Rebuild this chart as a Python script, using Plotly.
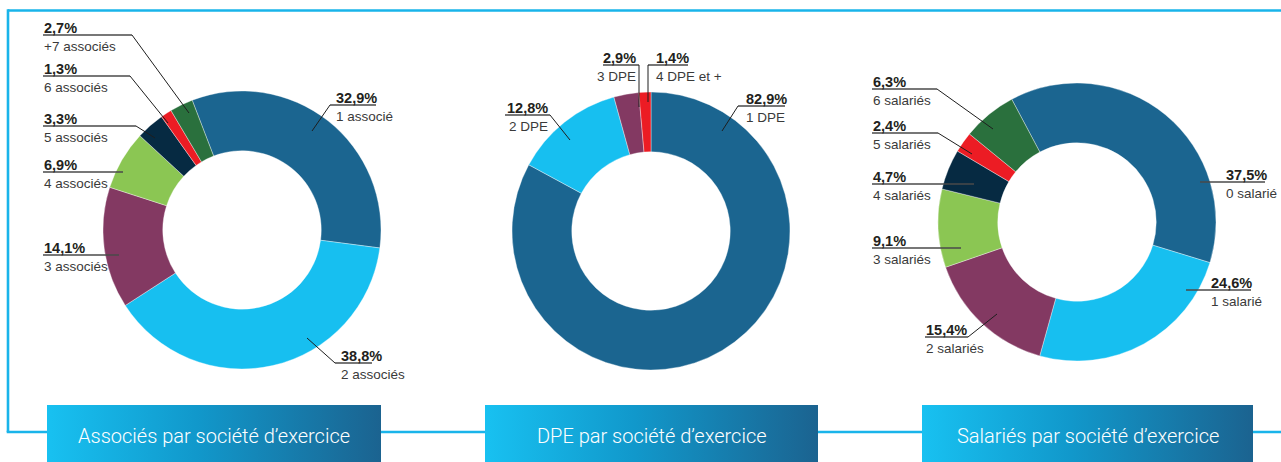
import plotly.graph_objects as go

# ---------------- data ----------------
associes_labels = ["1 associé", "2 associés", "3 associés", "4 associés", "5 associés", "6 associés", "+7 associés"]
associes_values = [32.9, 38.8, 14.1, 6.9, 3.3, 1.3, 2.7]

dpe_labels = ["1 DPE", "2 DPE", "3 DPE", "4 DPE et +"]
dpe_values = [82.9, 12.8, 2.9, 1.4]

salaries_labels = ["0 salarié", "1 salarié", "2 salariés", "3 salariés", "4 salariés", "5 salariés", "6 salariés"]
salaries_values = [37.5, 24.6, 15.4, 9.1, 4.7, 2.4, 6.3]

titles = ["Associés par société d’exercice", "DPE par société d’exercice", "Salariés par société d’exercice"]

# ---------------- styles ----------------
W, H = 1281, 462
DARK_BLUE = "#1b6590"
LIGHT_BLUE = "#17bff0"
PURPLE = "#833962"
LIGHT_GREEN = "#8bc653"
NAVY = "#062a42"
RED = "#ec1c24"
DARK_GREEN = "#2a703d"
FRAME = "#19b4ea"

colors7 = [DARK_BLUE, LIGHT_BLUE, PURPLE, LIGHT_GREEN, NAVY, RED, DARK_GREEN]
colors4 = [DARK_BLUE, LIGHT_BLUE, PURPLE, RED]

LABEL_FONT = "Liberation Sans, Arial, sans-serif"
TITLE_FONT = "Roboto, Liberation Sans, sans-serif"

# pie geometry (pixel centre, radius) and rotation
pies = [
    dict(labels=associes_labels, values=associes_values, colors=colors7, cx=242, cy=230, r=139, rot=-21),
    dict(labels=dpe_labels, values=dpe_values, colors=colors4, cx=651, cy=231, r=139, rot=0),
    dict(labels=salaries_labels, values=salaries_values, colors=colors7, cx=1077, cy=222, r=139, rot=-28),
]

# label layout per slice: (anchor, text_x, underline_y, ul_x0, ul_x1, leader_start_x, leader_end or None)
label_layout = [
    [
        ("left", 335, 105, 330, 376, 330, (312, 131)),
        ("left", 340, 363, 335, 372, 335, (307, 338)),
        ("left", 43, 255, 43, 119, None, None),
        ("left", 43, 172, 43, 123, None, None),
        ("left", 43, 126, 43, 136, 136, (155, 138)),
        ("left", 43, 76, 43, 130, 130, (168, 123)),
        ("left", 43, 35, 43, 132, 132, (189, 113)),
    ],
    [
        ("left", 745, 106, 738, 785, 738, (722, 131)),
        ("right", 549, 115, 505, 550, 550, (570, 140)),
        ("right", 637, 65, 603, 639, 639, (639, 107)),
        ("left", 655, 65, 648, 688, 648, (648, 102)),
    ],
    [
        ("left", 1225, 182, 1200, 1265, None, None),
        ("left", 1210, 290, 1186, 1251, None, None),
        ("left", 925, 337, 925, 968, 968, (997, 314)),
        ("left", 872, 248, 872, 961, None, None),
        ("left", 872, 184, 872, 974, None, None),
        ("left", 872, 133, 872, 938, 938, (972, 154)),
        ("left", 872, 89, 872, 937, 937, (993, 129)),
    ],
]

# title boxes (pixel x-range, y-range)
boxes = [(47, 381), (485, 818), (922, 1253)]
BOX_TOP, BOX_BOTTOM = 405, 462

fig = go.Figure()

# title boxes with horizontal gradient
for (x0, x1) in boxes:
    fig.add_trace(go.Scatter(
        x=[x0, x1, x1, x0, x0], y=[BOX_TOP, BOX_TOP, BOX_BOTTOM, BOX_BOTTOM, BOX_TOP],
        mode="lines", line=dict(width=0), fill="toself",
        fillgradient=dict(type="horizontal",
                          colorscale=[[0, "#18c1f1"], [0.45, "#1198cb"], [1, "#1b6390"]]),
        hoverinfo="skip", showlegend=False, xaxis="x", yaxis="y",
    ))

for p in pies:
    d = p["r"]
    fig.add_trace(go.Pie(
        labels=p["labels"], values=p["values"],
        marker=dict(colors=p["colors"], line=dict(color="rgba(255,255,255,0.6)", width=0.6)),
        hole=0.57, sort=False, direction="clockwise", rotation=p["rot"],
        textinfo="none", hoverinfo="label+percent", showlegend=False,
        domain=dict(x=[(p["cx"] - d) / W, (p["cx"] + d) / W],
                    y=[(H - p["cy"] - d) / H, (H - p["cy"] + d) / H]),
    ))

shapes = []
annotations = []

# frame lines
shapes.append(dict(type="line", xref="x", yref="y", x0=8, y0=10.5, x1=W + 2, y1=10.5,
                   line=dict(color=FRAME, width=2.6), layer="below"))
shapes.append(dict(type="line", xref="x", yref="y", x0=8, y0=9.2, x1=8, y1=432,
                   line=dict(color=FRAME, width=2.6), layer="below"))
shapes.append(dict(type="line", xref="x", yref="y", x0=6.7, y0=432, x1=W + 2, y1=432,
                   line=dict(color=FRAME, width=2.6), layer="below"))

# labels
for p, lay in zip(pies, label_layout):
    for lab, val, (anchor, tx, uy, ux0, ux1, lsx, lead) in zip(p["labels"], p["values"], lay):
        pct = f"{val:.1f}%".replace(".", ",")
        annotations.append(dict(xref="x", yref="y", x=tx, y=uy - 7.5, text=f"<b>{pct}</b>",
                                showarrow=False, xanchor=anchor, yanchor="middle",
                                font=dict(family=LABEL_FONT, size=14.5, color="#231f20"), borderpad=0))
        annotations.append(dict(xref="x", yref="y", x=tx, y=uy + 11, text=lab,
                                showarrow=False, xanchor=anchor, yanchor="middle",
                                font=dict(family=LABEL_FONT, size=13.5, color="#3a3a3a"), borderpad=0))
        shapes.append(dict(type="line", xref="x", yref="y", x0=ux0, y0=uy, x1=ux1, y1=uy,
                           line=dict(color="#4a4a4a", width=1.3), layer="above"))
        if lead is not None:
            shapes.append(dict(type="line", xref="x", yref="y", x0=lsx, y0=uy, x1=lead[0], y1=lead[1],
                               line=dict(color="#1e1e1e", width=1), layer="above"))

# titles
for (x0, x1), t in zip(boxes, titles):
    annotations.append(dict(xref="x", yref="y", x=(x0 + x1) / 2, y=436, text=t, showarrow=False,
                            xanchor="center", yanchor="middle",
                            font=dict(family=TITLE_FONT, size=20, color="white", weight=300)))

fig.update_layout(
    width=W, height=H, margin=dict(l=0, r=0, t=0, b=0),
    paper_bgcolor="white", plot_bgcolor="rgba(0,0,0,0)",
    xaxis=dict(range=[0, W], visible=False, fixedrange=True, domain=[0, 1]),
    yaxis=dict(range=[H, 0], visible=False, fixedrange=True, domain=[0, 1]),
    shapes=shapes, annotations=annotations, showlegend=False,
)

fig.write_html("out.html", config={"displayModeBar": False},
               post_script="document.body.style.margin='0';document.body.style.overflow='hidden';")
